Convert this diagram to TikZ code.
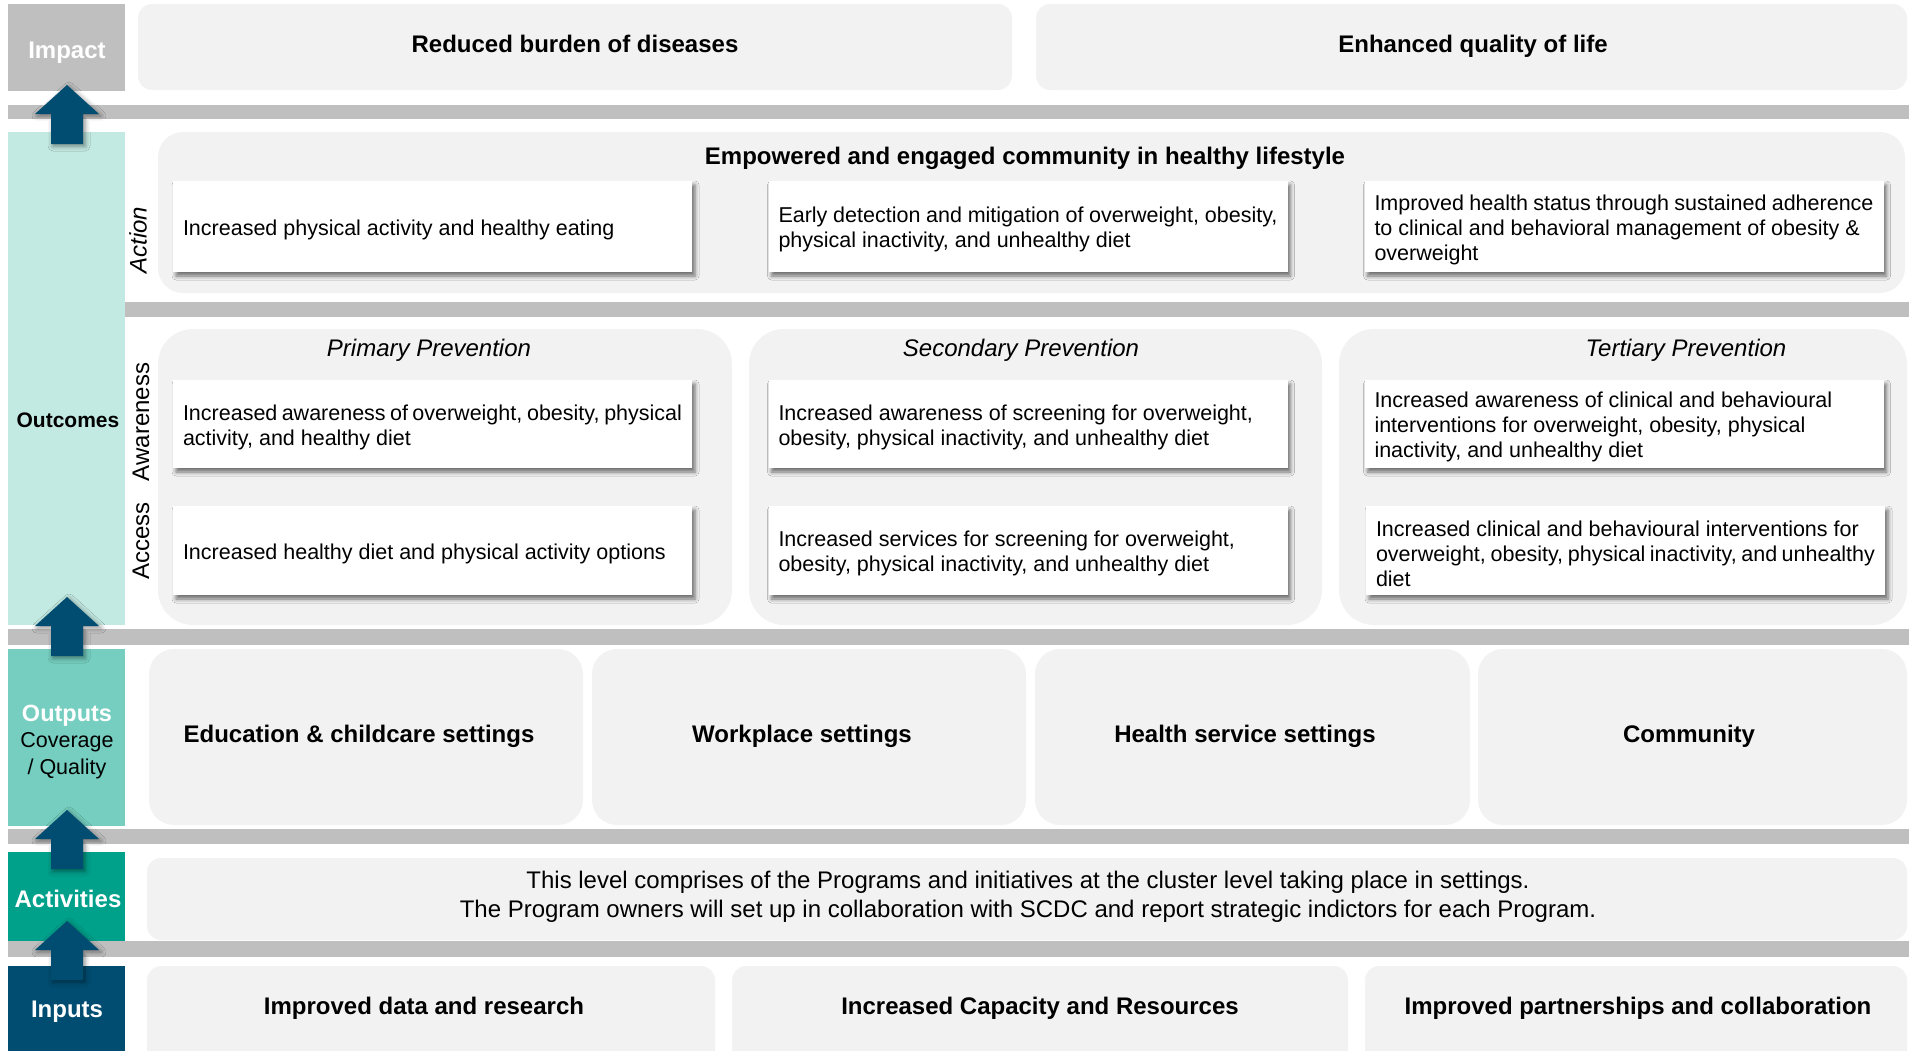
\documentclass[tikz,border=0pt]{standalone}
\usepackage{fontspec}
\setmainfont{Liberation Sans}
\usepackage{xcolor}
\definecolor{bandgray}{HTML}{BFBFBF}
\definecolor{panelgray}{HTML}{F2F2F2}
\definecolor{outcomemint}{HTML}{C3EAE2}
\definecolor{outputteal}{HTML}{75CEBF}
\definecolor{activitygreen}{HTML}{00A18B}
\definecolor{inputnavy}{HTML}{004D71}
\hyphenpenalty=10000
\usetikzlibrary{shadows.blur}
\tikzset{
  %% Styles %%
  band/.style = {fill=bandgray},
  panel/.style = {fill=panelgray, rounded corners=#1},
  panel/.default = 14pt,
  headtext/.style = {font=\bfseries\fontsize{24}{28}\selectfont, text height=17pt, text depth=5pt},
  leveltext/.style = {headtext, text=white},
  subhead/.style = {font=\itshape\fontsize{24}{28}\selectfont, text height=17pt, text depth=5pt},
  sidetext/.style = {rotate=90, font=\fontsize{24}{28}\selectfont},
  outbox/.style = {
    fill=white, inner xsep=10pt, inner ysep=0pt, text width=499pt, text height=22pt,
    minimum height=#1, align=justify, font=\fontsize{21.5}{25}\selectfont,
    blur shadow={shadow xshift=3pt, shadow yshift=-4pt, shadow blur radius=4pt, shadow opacity=55},
  },
  outbox/.default = 89pt,
  pics/uparrow/.style = {
    code = {
      % shaft and head
      \fill[inputnavy, blur shadow={shadow xshift=2pt, shadow yshift=-2pt, shadow blur radius=5pt, shadow opacity=45}]
        (-16,0) -- (-16,-30) -- (-32,-30) -- (0,-59) -- (32,-30) -- (16,-30) -- (16,0) -- cycle;
    }
  }
}

\begin{document}
\begin{tikzpicture}[x=1pt, y=-1pt]
  \clip (0,0) rectangle (1909,1050);

  % Bands between the levels
  \foreach \y/\h in {105/14, 629/16, 829/15, 941/16}
    \fill[band] (8,\y) rectangle (1909,{\y+\h});
  \fill[band] (125,302) rectangle (1909,317);

  % Level column
  \fill[bandgray] (8,4) rectangle (125,91);
  \fill[outcomemint] (8,132) rectangle (125,625);
  \fill[outputteal] (8,649) rectangle (125,826);
  \fill[activitygreen] (8,852) rectangle (125,941);
  \fill[inputnavy] (8,966) rectangle (125,1060);
  \node[leveltext] (impact) at (67,52.5) {Impact};
  \node[headtext, font=\bfseries\fontsize{21}{25}\selectfont] (outcomes) at (68,421) {Outcomes};
  \node[align=center, font=\fontsize{21.5}{26.5}\selectfont] (outputs) at (67,742)
    {{\color{white}\bfseries\fontsize{23.5}{26.5}\selectfont Outputs}\\Coverage\\/ Quality};
  \node[leveltext] (activities) at (68,901) {Activities};
  \node[leveltext] (inputs) at (67,1011.5) {Inputs};

  % Impact
  \fill[panel] (138,4) rectangle (1012,90);
  \fill[panel] (1036,4) rectangle (1907,90);
  \node[headtext] (burden) at (575,46.5) {Reduced burden of diseases};
  \node[headtext] (quality) at (1473,46.5) {Enhanced quality of life};

  % Outcomes: action
  \fill[panel=25pt] (158,132) rectangle (1905,293);
  \node[headtext] (empowered) at (1025,158.5) {Empowered and engaged community in healthy lifestyle};
  \node[sidetext, font=\itshape\fontsize{24}{28}\selectfont] (action) at (138,240) {Action};
  \node[outbox=91pt] (act1) at (432.5,226.5) {Increased physical activity and healthy eating};
  \node[outbox=91pt] (act2) at (1028,226.5) {Early detection and mitigation of overweight, obesity,\\physical inactivity, and unhealthy diet};
  \node[outbox=91pt] (act3) at (1624,226.5) {Improved health status through sustained adherence\\to clinical and behavioral management of obesity \&\\overweight};

  % Outcomes: awareness and access
  \foreach \xa/\xb in {158/732, 749/1322, 1339/1907}
    \fill[panel=35pt] (\xa,329) rectangle (\xb,625);
  \node[subhead] (primary) at (429,350.5) {Primary Prevention};
  \node[subhead] (secondary) at (1021,350.5) {Secondary Prevention};
  \node[subhead] (tertiary) at (1686,350.5) {Tertiary Prevention};
  \node[sidetext] (awareness) at (141,422) {Awareness};
  \node[sidetext] (access) at (141,541) {Access};
  \node[outbox=88pt] (aw1) at (432.5,424) {Increased awareness of overweight, obesity, physical\\activity, and healthy diet};
  \node[outbox=88pt] (aw2) at (1028,424) {Increased awareness of screening for overweight,\\obesity, physical inactivity, and unhealthy diet};
  \node[outbox=88pt] (aw3) at (1624,424) {Increased awareness of clinical and behavioural\\interventions for overweight, obesity, physical\\inactivity, and unhealthy diet};
  \node[outbox] (ac1) at (432.5,550.5) {Increased healthy diet and physical activity options};
  \node[outbox] (ac2) at (1028,550.5) {Increased services for screening for overweight,\\obesity, physical inactivity, and unhealthy diet};
  \node[outbox] (ac3) at (1625.5,550.5) {Increased clinical and behavioural interventions for\\overweight, obesity, physical inactivity, and unhealthy\\diet};

  % Outputs
  \foreach \xa/\xb in {149/583, 592/1026, 1035/1470, 1478/1907}
    \fill[panel=25pt] (\xa,649) rectangle (\xb,825);
  \foreach \xc/\name/\txt in {359/educ/Education \& childcare settings, 802/work/Workplace settings,
                              1245/health/Health service settings, 1689/community/Community}
    \node[headtext] (\name) at (\xc,736.5) {\txt};

  % Activities
  \fill[panel] (147,858) rectangle (1907,940);
  \node[align=flush center, font=\fontsize{24}{29}\selectfont] (actdesc) at (1028,897)
    {This level comprises of the Programs and initiatives at the cluster level taking place in settings.\\
     The Program owners will set up in collaboration with SCDC and report strategic indictors for each Program.};

  % Inputs
  \foreach \xa/\xb in {147/715, 732/1348, 1365/1907}
    \fill[panel] (\xa,966) rectangle (\xb,1080);
  \node[headtext] (data) at (424,1008) {Improved data and research};
  \node[headtext] (capacity) at (1040,1008) {Increased Capacity and Resources};
  \node[headtext] (partner) at (1638,1008) {Improved partnerships and collaboration};

  % Arrows between the levels
  \foreach \y in {144, 656, 869, 980}
    \pic at (67,\y) {uparrow};
\end{tikzpicture}
\end{document}
